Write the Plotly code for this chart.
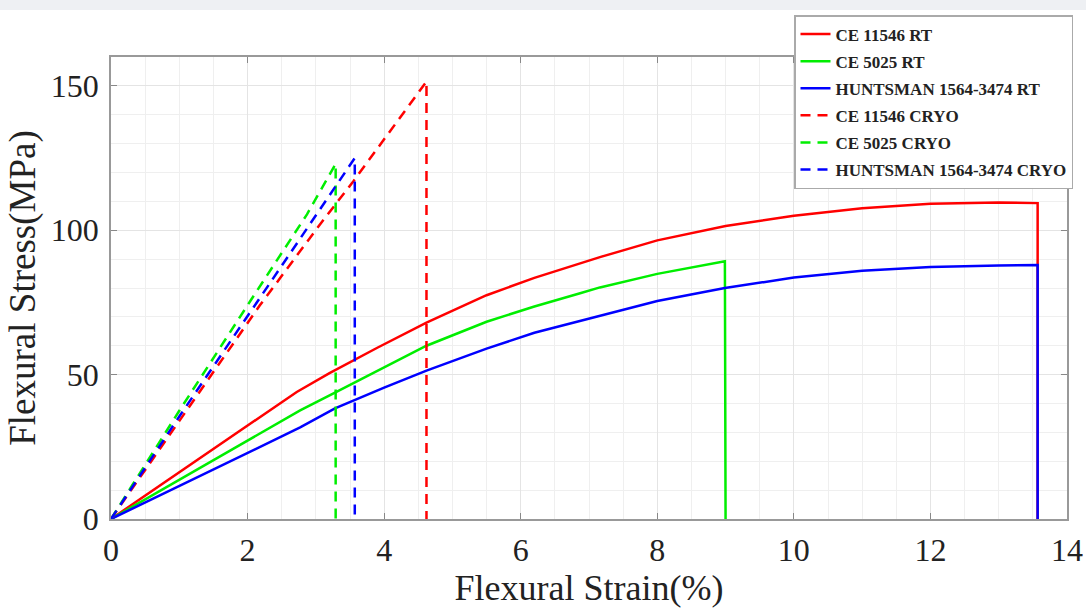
import plotly.graph_objects as go

# ---------------- data ----------------
rt_ce11546_x = [0, 1, 2, 2.72, 3.2, 3.9, 4.62, 5.5, 6.2, 6.87, 7.16, 8, 9, 10, 11, 12, 13, 13.57, 13.57]
rt_ce11546_y = [0, 16.2, 32.4, 44, 50.5, 59.3, 68, 77.5, 83.5, 88.6, 90.7, 96.5, 101.5, 105, 107.6, 109.2, 109.6, 109.4, 0]

rt_ce5025_x = [0, 1, 2, 2.77, 3.28, 4, 4.62, 5.5, 6.2, 6.87, 7.16, 8, 8.99, 9.0]
rt_ce5025_y = [0, 13.5, 27, 37.6, 43.8, 52.5, 60, 68.3, 73.6, 78.2, 80.2, 84.9, 89.3, 0]

rt_hunts_x = [0, 1, 2, 2.77, 3.28, 4, 4.62, 5.5, 6.2, 6.87, 7.16, 8, 8.99, 10, 11, 12, 13, 13.57, 13.57]
rt_hunts_y = [0, 11.5, 23, 31.7, 38.3, 45.5, 51.4, 59, 64.5, 68.6, 70.5, 75.5, 80, 83.6, 86, 87.3, 87.8, 88, 0]

cryo_ce11546_x = [0, 1, 2.18, 3.06, 3.55, 4.62, 4.62]
cryo_ce11546_y = [0, 34, 74, 102, 117, 151.5, 0]

cryo_ce5025_x = [0, 1, 2.04, 2.87, 3.29, 3.29]
cryo_ce5025_y = [0, 37.5, 75.5, 105.5, 123, 0]

cryo_hunts_x = [0, 1, 2.15, 2.96, 3.45, 3.57, 3.57]
cryo_hunts_y = [0, 35.5, 75.5, 104, 121, 125, 0]

names = ["CE 11546 RT", "CE 5025 RT", "HUNTSMAN 1564-3474 RT",
         "CE 11546 CRYO", "CE 5025 CRYO", "HUNTSMAN 1564-3474 CRYO"]

x_ticks = [0, 2, 4, 6, 8, 10, 12, 14]
y_ticks = [0, 50, 100, 150]

# ---------------- figure ----------------
series = [
    (rt_ce11546_x, rt_ce11546_y, "#ff0000", "solid"),
    (rt_ce5025_x, rt_ce5025_y, "#00ee00", "solid"),
    (rt_hunts_x, rt_hunts_y, "#0000ff", "solid"),
    (cryo_ce11546_x, cryo_ce11546_y, "#ff0000", "10px,7px"),
    (cryo_ce5025_x, cryo_ce5025_y, "#00ee00", "10px,7px"),
    (cryo_hunts_x, cryo_hunts_y, "#0000ff", "10px,7px"),
]

fig = go.Figure()
for i, ((xs, ys, col, dash), nm) in enumerate(zip(series, names)):
    fig.add_trace(go.Scatter(
        x=xs, y=ys, mode="lines", name=nm, legendgroup=str(i),
        line=dict(color=col, width=2.5, dash=dash),
    ))

serif = "Liberation Serif, Times New Roman, serif"

fig.update_layout(
    width=1086, height=608,
    margin=dict(l=111, r=19, t=57, b=89, autoexpand=False),
    paper_bgcolor="white", plot_bgcolor="white",
    font=dict(family=serif, color="#222222"),
    showlegend=True,
    legend=dict(
        xref="container", yref="container",
        x=794 / 1086, y=1 - 15 / 608, xanchor="left", yanchor="top",
        bgcolor="white", bordercolor="#aaaaaa", borderwidth=1.5,
        font=dict(family=serif, size=17, color="#222222", weight="bold"),
        tracegroupgap=2, traceorder="grouped",
        itemwidth=30,
    ),
    xaxis=dict(
        range=[0, 14], tickvals=x_ticks, ticktext=[str(v) for v in x_ticks],
        automargin=False,
        showgrid=True, gridcolor="#e4e4e4", gridwidth=1,
        minor=dict(dtick=0.5, showgrid=True, gridcolor="#efefef", gridwidth=1,
                   ticks=""),
        ticks="inside", ticklen=6, tickcolor="#888888",
        showline=True, linecolor="#999999", linewidth=1.5, mirror="ticks",
        zeroline=False, ticklabelstandoff=2,
        tickfont=dict(family=serif, size=32, color="#222222"),
        title=dict(text="Flexural Strain(%)", font=dict(family=serif, size=36, color="#222222"),
                   standoff=7),
    ),
    yaxis=dict(
        range=[0, 160], tickvals=y_ticks, ticktext=[str(v) for v in y_ticks],
        automargin=False,
        showgrid=True, gridcolor="#e4e4e4", gridwidth=1,
        minor=dict(dtick=10, showgrid=True, gridcolor="#efefef", gridwidth=1,
                   ticks=""),
        ticks="inside", ticklen=6, tickcolor="#888888",
        showline=True, linecolor="#999999", linewidth=1.5, mirror="ticks",
        zeroline=False, ticklabelstandoff=4,
        tickfont=dict(family=serif, size=32, color="#222222"),
        title=dict(text="Flexural Stress(MPa)", font=dict(family=serif, size=37, color="#222222"),
                   standoff=4),
    ),
)

# light grey band along the top edge of the image
fig.add_shape(type="rect", xref="paper", yref="paper",
              x0=-0.2, x1=1.1, y0=(598 - 89) / 462, y1=1.2,
              fillcolor="#eef0f3", line=dict(width=0), layer="below")

fig.write_html(
    "out.html",
    config={"displayModeBar": False},
    post_script="document.body.style.margin='0';document.body.style.overflow='hidden';",
)
